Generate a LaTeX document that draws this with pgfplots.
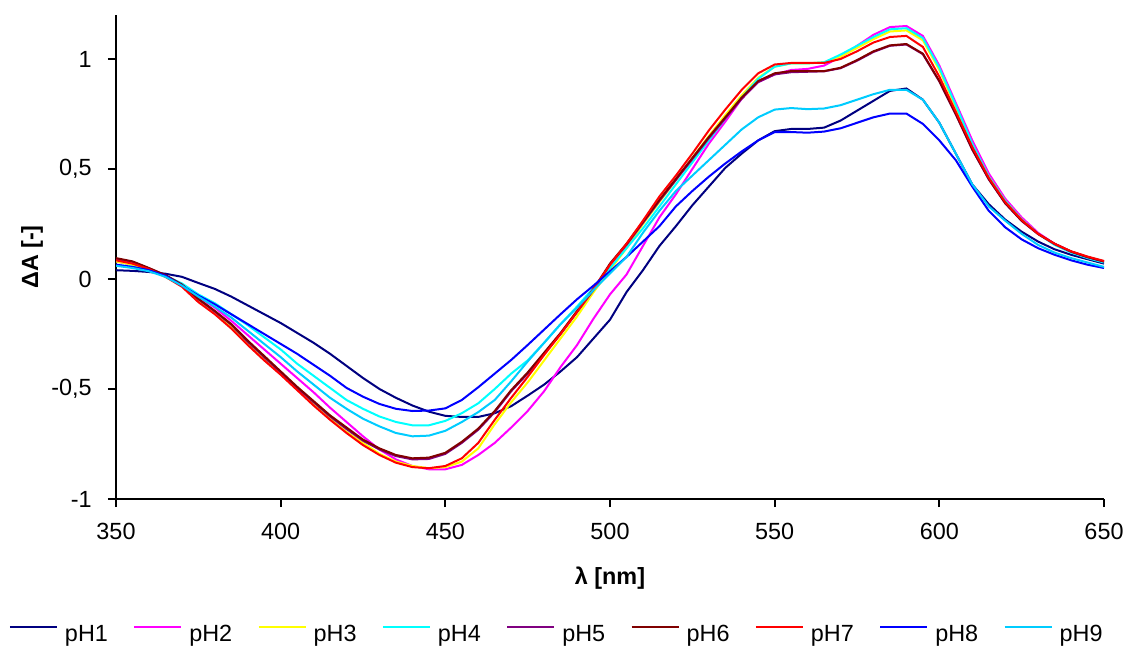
\documentclass[border=0pt]{standalone}
\usepackage{fontspec}
\setmainfont{Liberation Sans}
\usepackage{pgfplots}
\usepackage{pgfplotstable}
\pgfplotsset{compat=1.18}
\definecolor{cnavy}{RGB}{0,0,128}
\definecolor{cmag}{RGB}{255,0,255}
\definecolor{cyel}{RGB}{255,255,0}
\definecolor{ccyan}{RGB}{0,255,255}
\definecolor{cpurp}{RGB}{128,0,128}
\definecolor{cdred}{RGB}{128,0,0}
\definecolor{cred}{RGB}{255,0,0}
\definecolor{cblue}{RGB}{0,0,255}
\definecolor{csky}{RGB}{0,204,255}
\pgfplotstableread{
x p1 p2 p3 p4 p5 p6 p7 p8 p9
350 0.040 0.080 0.080 0.065 0.092 0.095 0.085 0.065 0.060
355 0.037 0.065 0.065 0.055 0.078 0.080 0.070 0.055 0.050
360 0.032 0.045 0.042 0.040 0.048 0.050 0.045 0.040 0.035
365 0.024 0.015 0.010 0.015 0.016 0.018 0.010 0.015 0.010
370 0.010 -0.025 -0.030 -0.020 -0.028 -0.025 -0.035 -0.030 -0.030
375 -0.018 -0.080 -0.100 -0.070 -0.092 -0.090 -0.105 -0.075 -0.080
380 -0.045 -0.130 -0.155 -0.110 -0.148 -0.145 -0.160 -0.115 -0.125
385 -0.080 -0.190 -0.215 -0.160 -0.208 -0.205 -0.225 -0.160 -0.175
390 -0.120 -0.255 -0.290 -0.210 -0.285 -0.280 -0.300 -0.205 -0.235
395 -0.160 -0.320 -0.360 -0.265 -0.355 -0.350 -0.370 -0.250 -0.295
400 -0.200 -0.385 -0.425 -0.320 -0.425 -0.420 -0.435 -0.295 -0.355
405 -0.245 -0.450 -0.495 -0.385 -0.495 -0.490 -0.505 -0.340 -0.420
410 -0.290 -0.515 -0.565 -0.440 -0.560 -0.555 -0.575 -0.390 -0.480
415 -0.340 -0.585 -0.635 -0.495 -0.625 -0.620 -0.640 -0.440 -0.540
420 -0.395 -0.650 -0.695 -0.550 -0.682 -0.675 -0.700 -0.495 -0.590
425 -0.450 -0.715 -0.745 -0.590 -0.735 -0.730 -0.755 -0.535 -0.635
430 -0.500 -0.775 -0.795 -0.625 -0.775 -0.770 -0.800 -0.568 -0.670
435 -0.540 -0.820 -0.830 -0.650 -0.805 -0.800 -0.835 -0.590 -0.700
440 -0.575 -0.850 -0.850 -0.665 -0.820 -0.815 -0.855 -0.600 -0.715
445 -0.603 -0.865 -0.860 -0.665 -0.818 -0.812 -0.860 -0.598 -0.712
450 -0.622 -0.865 -0.855 -0.645 -0.795 -0.790 -0.850 -0.588 -0.690
455 -0.627 -0.845 -0.830 -0.610 -0.745 -0.740 -0.815 -0.550 -0.650
460 -0.627 -0.800 -0.770 -0.565 -0.685 -0.680 -0.745 -0.492 -0.605
465 -0.610 -0.745 -0.660 -0.500 -0.605 -0.600 -0.640 -0.430 -0.550
470 -0.578 -0.675 -0.560 -0.430 -0.510 -0.505 -0.540 -0.368 -0.465
475 -0.530 -0.600 -0.470 -0.370 -0.430 -0.425 -0.445 -0.300 -0.375
480 -0.480 -0.510 -0.370 -0.290 -0.340 -0.335 -0.345 -0.230 -0.290
485 -0.420 -0.400 -0.270 -0.205 -0.250 -0.245 -0.250 -0.160 -0.205
490 -0.355 -0.300 -0.170 -0.125 -0.150 -0.145 -0.150 -0.092 -0.130
495 -0.270 -0.180 -0.060 -0.040 -0.050 -0.045 -0.045 -0.030 -0.050
500 -0.185 -0.070 0.040 0.050 0.065 0.070 0.065 0.035 0.025
505 -0.060 0.020 0.140 0.140 0.155 0.160 0.160 0.100 0.100
510 0.040 0.150 0.250 0.230 0.255 0.260 0.265 0.170 0.210
515 0.150 0.280 0.350 0.330 0.355 0.360 0.375 0.240 0.310
520 0.240 0.385 0.450 0.430 0.450 0.455 0.470 0.330 0.400
525 0.335 0.500 0.550 0.530 0.545 0.550 0.570 0.400 0.470
530 0.420 0.615 0.650 0.630 0.640 0.645 0.675 0.465 0.540
535 0.505 0.715 0.745 0.730 0.730 0.735 0.770 0.525 0.610
540 0.570 0.820 0.835 0.825 0.820 0.825 0.860 0.580 0.680
545 0.630 0.895 0.915 0.910 0.895 0.900 0.935 0.630 0.735
550 0.672 0.930 0.965 0.965 0.930 0.935 0.975 0.668 0.770
555 0.682 0.950 0.980 0.980 0.940 0.945 0.982 0.668 0.777
560 0.682 0.955 0.980 0.980 0.942 0.945 0.982 0.665 0.772
565 0.688 0.970 0.985 0.985 0.944 0.945 0.982 0.670 0.775
570 0.720 1.010 1.010 1.020 0.958 0.960 1.000 0.685 0.790
575 0.765 1.060 1.050 1.060 0.992 0.995 1.035 0.710 0.815
580 0.810 1.110 1.090 1.100 1.032 1.035 1.075 0.735 0.840
585 0.855 1.145 1.125 1.135 1.060 1.062 1.100 0.752 0.860
590 0.866 1.150 1.130 1.140 1.066 1.068 1.105 0.752 0.860
595 0.815 1.105 1.085 1.095 1.022 1.024 1.055 0.705 0.815
600 0.710 0.970 0.950 0.960 0.898 0.900 0.920 0.630 0.710
605 0.570 0.800 0.780 0.790 0.748 0.750 0.760 0.540 0.570
610 0.430 0.630 0.610 0.615 0.588 0.590 0.600 0.420 0.430
615 0.340 0.480 0.465 0.465 0.453 0.455 0.460 0.310 0.330
620 0.270 0.365 0.355 0.355 0.344 0.345 0.350 0.235 0.265
625 0.215 0.280 0.270 0.270 0.264 0.265 0.268 0.180 0.205
630 0.170 0.210 0.205 0.205 0.204 0.205 0.205 0.140 0.155
635 0.135 0.160 0.158 0.155 0.159 0.160 0.160 0.110 0.120
640 0.110 0.125 0.124 0.120 0.124 0.125 0.126 0.085 0.095
645 0.090 0.100 0.100 0.095 0.099 0.100 0.102 0.065 0.075
650 0.070 0.080 0.080 0.075 0.079 0.080 0.082 0.050 0.055
}\data

\begin{document}
\fontsize{11.7}{14}\selectfont
\begin{tikzpicture}
\useasboundingbox (-58pt,-74.5pt) rectangle (505.5pt,249.5pt);
\begin{axis}[
  at={(0pt,0pt)}, anchor=south west,
  scale only axis, width=494pt, height=242pt,
  xmin=350, xmax=650, ymin=-1, ymax=1.2,
  axis x line=bottom, axis y line=left,
  axis line style={black, line width=0.9pt, -},
  xtick={350,400,450,500,550,600,650},
  xticklabels={350,400,450,500,550,600,650},
  ytick={-1,-0.5,0,0.5,1},
  yticklabels={{-1},{-0,5},{0},{0,5},{1}},
  tick align=outside, major tick length=4pt,
  tick style={black, line width=0.9pt},
  xticklabel style={inner sep=0pt, anchor=north, yshift=-8pt},
  yticklabel style={inner sep=0pt, anchor=east, xshift=-8pt},
  xlabel={\bfseries λ [nm]},
  ylabel={\bfseries ΔA [-]},
  xlabel style={at={(axis description cs:0.5,-0.1632)}, anchor=center, inner sep=0pt},
  ylabel style={at={(axis description cs:-0.085,0.5)}, anchor=center, inner sep=0pt},
  legend columns=-1,
  legend style={at={(axis description cs:-0.1083,-0.281)}, anchor=west, draw=none, fill=none,
    inner sep=0pt, outer sep=0pt, nodes={inner sep=0pt},
    /tikz/every odd column/.append style={column sep=3.5pt},
    /tikz/every even column/.append style={column sep=12.7pt}},
  legend image code/.code={\draw[#1] (0pt,4.2pt) -- (23.5pt,4.2pt);},
  every axis plot/.append style={line width=1pt},
]
\addplot[cnavy] table[x=x,y=p1]{\data};
\addplot[cmag] table[x=x,y=p2]{\data};
\addplot[cyel] table[x=x,y=p3]{\data};
\addplot[ccyan] table[x=x,y=p4]{\data};
\addplot[cpurp] table[x=x,y=p5]{\data};
\addplot[cdred] table[x=x,y=p6]{\data};
\addplot[cred] table[x=x,y=p7]{\data};
\addplot[cblue] table[x=x,y=p8]{\data};
\addplot[csky] table[x=x,y=p9]{\data};
\legend{pH1,pH2,pH3,pH4,pH5,pH6,pH7,pH8,pH9}
\end{axis}
\end{tikzpicture}
\end{document}
